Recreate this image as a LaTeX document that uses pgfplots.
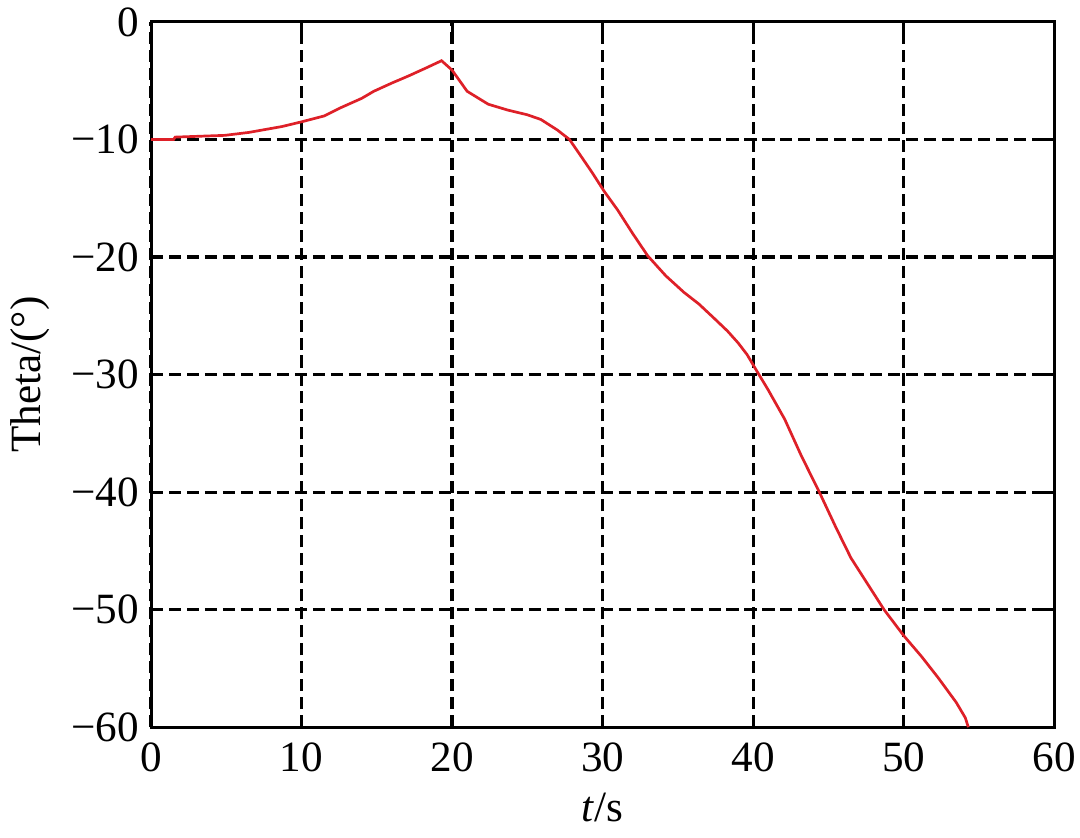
\documentclass[border=0pt]{standalone}
\usepackage{fontspec}
\setmainfont{Liberation Serif}
\usepackage{pgfplots}
\pgfplotsset{compat=1.18}
\definecolor{curvered}{RGB}{222,32,40}
\begin{document}
\fontsize{24}{28}\selectfont
\begin{tikzpicture}
\begin{axis}[
  scale only axis,
  width=502.2pt, height=392.2pt,
  xmin=0, xmax=60, ymin=-60, ymax=0,
  xtick={0,10,...,60},
  ytick={-60,-50,...,0},
  xticklabels={0,10,20,30,40,50,60},
  yticklabels={−60,−50,−40,−30,−20,−10,0},
  tick label style={font=\fontsize{24}{28}\selectfont, inner sep=0pt},
  xticklabel style={anchor=north, yshift=-8.3pt},
  yticklabel style={anchor=east, xshift=-6.7pt},
  label style={font=\fontsize{24}{28}\selectfont, inner sep=0pt},
  xlabel={\textit{t}/s},
  ylabel={Theta/(°)},
  xlabel style={at={(axis description cs:0.5,-0.1331)}, anchor=base},
  ylabel style={at={(axis description cs:-0.1229,0.5)}, rotate=0, anchor=base},
  axis line style={line width=1.7pt},
  tick style={line width=1.7pt, black},
  major tick length=5.5pt,
  tick pos=both,
  tick align=inside,
  grid=major,
  major grid style={black, line width=1.75pt, dash pattern=on 6.7pt off 3.3pt},
]
\addplot[curvered, line width=1.5pt] table {
0 -10.0
1.5 -10.0
1.6 -9.8
4.9 -9.65
6.5 -9.4
8.7 -8.9
10 -8.5
11.5 -8.0
12.6 -7.3
14 -6.5
14.8 -5.9
16 -5.2
17.1 -4.6
18.3 -3.9
19.3 -3.3
20.0 -4.1
21.0 -5.9
22.4 -7.0
23.7 -7.5
25.0 -7.9
25.9 -8.3
27.0 -9.2
27.8 -10.0
28.5 -11.3
29.3 -12.8
30.1 -14.4
31.0 -16.0
32.0 -18.0
33.0 -19.9
34.2 -21.6
35.4 -23.0
36.4 -24.0
37.4 -25.2
38.3 -26.3
39.0 -27.3
39.6 -28.3
40.2 -29.6
41.0 -31.3
42.1 -33.8
43.2 -36.9
44.4 -40.0
45.5 -43.0
46.5 -45.6
47.6 -47.8
48.7 -50.0
50.0 -52.2
51.2 -54.0
52.3 -55.8
53.5 -57.9
54.1 -59.2
54.3 -60.0
};
\end{axis}
\path (current axis.west) ++(-84pt,0);
\path (current axis.east) ++(14.4pt,0);
\path (current axis.north) ++(0,12.2pt);
\path (current axis.south) ++(0,-61.1pt);
\end{tikzpicture}
\end{document}
